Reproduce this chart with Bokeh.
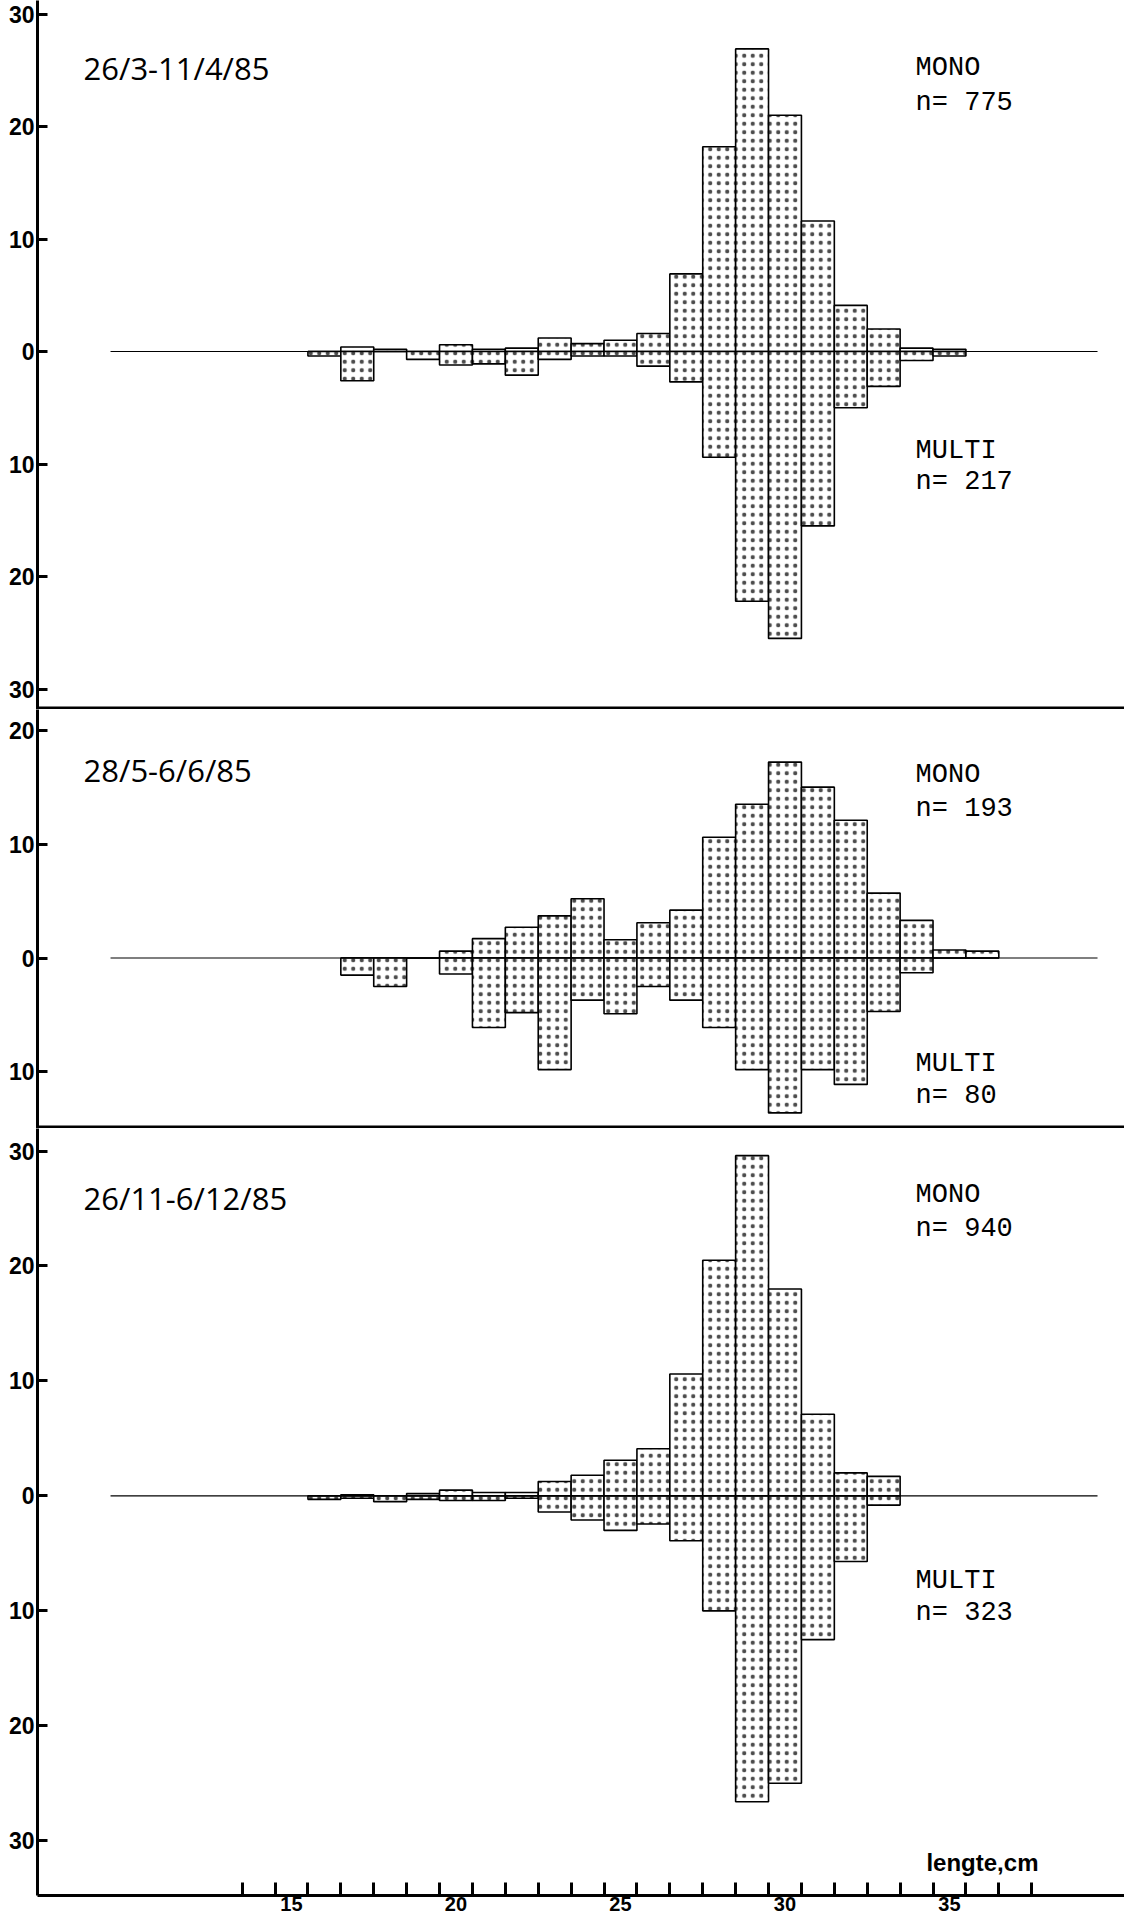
from bokeh.plotting import figure
from bokeh.layouts import column
from bokeh.models import FixedTicker, Span, ColumnDataSource
from bokeh.core.properties import value
from bokeh.embed import file_html
from bokeh.resources import INLINE

# ---------------- data (percent per 1-cm length class) ----------------
top_len = [16, 17, 18, 19, 20, 21, 22, 23, 24, 25, 26, 27, 28, 29, 30, 31, 32, 33, 34, 35]
top_mono = [0, 0.4, 0.2, 0, 0.6, 0.2, 0.3, 1.2, 0.7, 1.0, 1.6, 6.9, 18.2, 26.9, 21.0, 11.6, 4.1, 2.0, 0.3, 0.2]
top_multi = [0.4, 2.6, 0, 0.7, 1.2, 1.1, 2.1, 0.7, 0.4, 0.4, 1.3, 2.7, 9.4, 22.2, 25.5, 15.5, 5.0, 3.1, 0.8, 0.4]

mid_len = [17, 18, 19, 20, 21, 22, 23, 24, 25, 26, 27, 28, 29, 30, 31, 32, 33, 34, 35, 36]
mid_mono = [0, 0, 0, 0.6, 1.7, 2.7, 3.7, 5.2, 1.6, 3.1, 4.2, 10.6, 13.5, 17.2, 15.0, 12.1, 5.7, 3.3, 0.7, 0.6]
mid_multi = [1.5, 2.5, 0, 1.4, 6.1, 4.8, 9.8, 3.7, 4.9, 2.5, 3.7, 6.1, 9.8, 13.6, 9.8, 11.1, 4.7, 1.3, 0, 0]

bot_len = [16, 17, 18, 19, 20, 21, 22, 23, 24, 25, 26, 27, 28, 29, 30, 31, 32, 33]
bot_mono = [0, 0.1, 0, 0.2, 0.5, 0.3, 0.3, 1.25, 1.8, 3.1, 4.1, 10.6, 20.5, 29.6, 18.0, 7.1, 2.0, 1.7]
bot_multi = [0.3, 0.2, 0.5, 0.3, 0.4, 0.4, 0.2, 1.4, 2.1, 3.0, 2.45, 3.9, 10.0, 26.6, 25.0, 12.5, 5.7, 0.8]

periods = ["26/3-11/4/85", "28/5-6/6/85", "26/11-6/12/85"]
mono_n = [775, 193, 940]
multi_n = [217, 80, 323]
x_tick_labels = [15, 20, 25, 30, 35]
x_minor = [13.5 + i for i in range(25)]
x_title = "lengte,cm"

# ---------------- layout constants ----------------
X0, X1 = 7.28, 40.32
W = 1124
LEFT = 37
BASE_X0, BASE_X1 = 9.5, 39.5
TXT_X_DATE, TXT_X_RIGHT = 8.68, 33.97

AX_FONT = value("Liberation Sans")
DATE_FONT = value("Open Sans")
TYPE_FONT = value("Liberation Mono")


def panel(height, y0, y1, lens, mono, multi, yticks, date, mn, un, ypos, bottom=False):
    p = figure(width=W, height=height, x_range=(X0, X1), y_range=(y0, y1),
               output_backend="svg", toolbar_location=None,
               x_axis_location="below" if bottom else None,
               min_border_left=LEFT, min_border_right=0,
               min_border_top=0, min_border_bottom=0)
    p.grid.visible = False
    p.outline_line_color = None
    p.background_fill_color = "white"
    p.border_fill_color = "white"

    ya = p.yaxis[0]
    ya.ticker = FixedTicker(ticks=yticks)
    ya.major_label_overrides = {t: str(abs(t)) for t in yticks if t < 0}
    ya.axis_line_width = 3
    ya.major_tick_in = 10
    ya.major_tick_out = 0
    ya.major_tick_line_width = 3
    ya.minor_tick_line_color = None
    ya.major_label_standoff = 3
    ya.major_label_text_font = "Liberation Sans"
    ya.major_label_text_font_style = "bold"
    ya.major_label_text_font_size = "23px"
    ya.major_label_text_color = "black"

    if bottom:
        xa = p.xaxis[0]
        xa.ticker = FixedTicker(ticks=x_tick_labels, minor_ticks=x_minor)
        xa.axis_line_width = 3
        xa.major_tick_in = 0
        xa.major_tick_out = 0
        xa.minor_tick_in = 13
        xa.minor_tick_out = 0
        xa.minor_tick_line_width = 3
        xa.major_label_standoff = 1
        xa.major_label_text_font = "Liberation Sans"
        xa.major_label_text_font_style = "bold"
        xa.major_label_text_font_size = "20px"
        xa.major_label_text_color = "black"

    src = ColumnDataSource(dict(
        left=[v - 0.5 for v in lens], right=[v + 0.5 for v in lens],
        mono=mono, multi=[-v for v in multi], zero=[0] * len(lens)))
    common = dict(fill_color="white", hatch_pattern="dot", hatch_color="black",
                  hatch_scale=8.5, hatch_weight=0.9, hatch_alpha=0.7,
                  line_color="black", line_width=1.6)
    p.quad(left="left", right="right", bottom="zero", top="mono", source=src, **common)
    p.quad(left="left", right="right", bottom="multi", top="zero", source=src, **common)

    p.segment(x0=BASE_X0, y0=0, x1=BASE_X1, y1=0, line_color="black", line_width=1.2)

    # labels
    p.text(x=[TXT_X_DATE], y=[ypos[0]], text=[date], text_font=DATE_FONT,
           text_font_size="31px", text_baseline="alphabetic", text_align="left",
           text_color="black")
    p.text(x=[TXT_X_RIGHT] * 4, y=ypos[1:5],
           text=["MONO", "n= %d" % mn, "MULTI", "n= %d" % un],
           text_font=TYPE_FONT, text_font_size="27px", text_baseline="alphabetic",
           text_align="left", text_color="black")

    if not bottom:
        p.add_layout(Span(location=y0 + 0.13, dimension="width",
                          line_color="black", line_width=3))
    return p


p1 = panel(709, -31.82, 31.2, top_len, top_mono, top_multi,
           [-30, -20, -10, 0, 10, 20, 30], periods[0], mono_n[0], multi_n[0],
           [25.2, 25.2, 22.1, -8.8, -11.6])
p2 = panel(419, -14.97, 21.82, mid_len, mid_mono, mid_multi,
           [-10, 0, 10, 20], periods[1], mono_n[1], multi_n[1],
           [16.5, 16.1, 13.1, -9.35, -12.1])
p3 = panel(785, -34.76, 31.96, bot_len, bot_mono, bot_multi,
           [-30, -20, -10, 0, 10, 20, 30], periods[2], mono_n[2], multi_n[2],
           [25.9, 26.2, 23.2, -7.4, -10.2], bottom=True)
p3.text(x=[34.3], y=[-31.9], text=[x_title], text_font=AX_FONT,
        text_font_style="bold", text_font_size="24px", text_baseline="alphabetic",
        text_align="left", text_color="black")

layout = column(p1, p2, p3, spacing=0)
open("out.html", "w").write(file_html(layout, INLINE))
